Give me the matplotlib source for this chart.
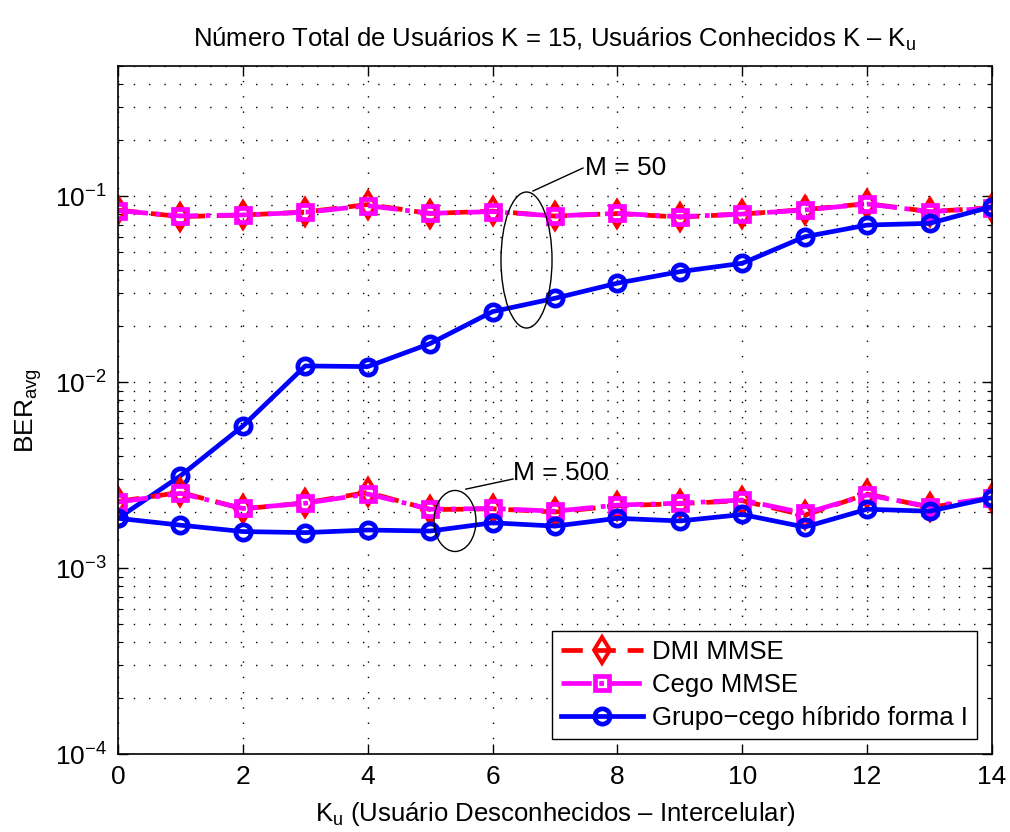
import matplotlib
matplotlib.use("Agg")
import matplotlib.pyplot as plt
from matplotlib.patches import Ellipse
from matplotlib.ticker import LogLocator, NullFormatter

plt.rcParams['font.family'] = ['Liberation Sans', 'DejaVu Sans']
plt.rcParams['mathtext.fontset'] = 'custom'
plt.rcParams['mathtext.rm'] = 'Liberation Sans'
plt.rcParams['mathtext.it'] = 'Liberation Sans:italic'
plt.rcParams['mathtext.bf'] = 'Liberation Sans:bold'

# ---- data ----
ku = list(range(15))

dmi_m50 = [0.0840, 0.0775, 0.0790, 0.0820, 0.0900, 0.0805, 0.0830, 0.0780,
           0.0805, 0.0770, 0.0800, 0.0845, 0.0910, 0.0825, 0.0865]
cego_m50 = [0.0834, 0.0781, 0.0791, 0.0817, 0.0887, 0.0807, 0.0824, 0.0781,
            0.0807, 0.0774, 0.0800, 0.0841, 0.0906, 0.0824, 0.0859]
hib_m50 = [1.85e-3, 3.13e-3, 5.8e-3, 1.22e-2, 1.21e-2, 1.61e-2, 2.39e-2, 2.82e-2,
           3.40e-2, 3.92e-2, 4.35e-2, 6.04e-2, 6.98e-2, 7.13e-2, 8.76e-2]

dmi_m500 = [2.28e-3, 2.55e-3, 2.08e-3, 2.24e-3, 2.55e-3, 2.06e-3, 2.08e-3, 2.00e-3,
            2.16e-3, 2.22e-3, 2.30e-3, 1.92e-3, 2.50e-3, 2.12e-3, 2.37e-3]
cego_m500 = [2.26e-3, 2.52e-3, 2.09e-3, 2.23e-3, 2.50e-3, 2.07e-3, 2.09e-3, 2.02e-3,
             2.18e-3, 2.23e-3, 2.32e-3, 1.97e-3, 2.47e-3, 2.14e-3, 2.39e-3]
hib_m500 = [1.85e-3, 1.70e-3, 1.57e-3, 1.55e-3, 1.60e-3, 1.58e-3, 1.75e-3, 1.68e-3,
            1.85e-3, 1.79e-3, 1.94e-3, 1.66e-3, 2.07e-3, 2.02e-3, 2.39e-3]

legend_labels = ['DMI MMSE', 'Cego MMSE', 'Grupo\u2212cego híbrido forma I']
xticks = list(range(0, 15, 2))

# ---- figure ----
fig = plt.figure(figsize=(10.10, 8.32), dpi=100)
ax = fig.add_axes([118/1010, 78/832, 874/1010, 688/832])

dmi_style = dict(color='red', linestyle='--', linewidth=3.4, marker='d', markersize=13,
                 markerfacecolor='none', markeredgewidth=2.8, markeredgecolor='red',
                 dashes=(4.5, 2.5))
cego_style = dict(color='magenta', linestyle='-.', linewidth=3.4, marker='s', markersize=10,
                  markerfacecolor='none', markeredgewidth=3.4, markeredgecolor='magenta')
hib_style = dict(color='blue', linestyle='-', linewidth=3.4, marker='o', markersize=11,
                 markerfacecolor='none', markeredgewidth=3.4, markeredgecolor='blue')

l1, = ax.plot(ku, dmi_m50, **dmi_style)
l2, = ax.plot(ku, cego_m50, **cego_style)
l3, = ax.plot(ku, hib_m50, **hib_style)
ax.plot(ku, dmi_m500, **dmi_style)
ax.plot(ku, cego_m500, **cego_style)
ax.plot(ku, hib_m500, **hib_style)

ax.set_yscale('log')
ax.set_ylim(1e-4, 0.5)
ax.set_xlim(0, 14)
ax.set_xticks(xticks)
ax.yaxis.set_major_locator(LogLocator(base=10, numticks=10))
ax.yaxis.set_minor_locator(LogLocator(base=10, subs=range(2, 10), numticks=20))
ax.yaxis.set_minor_formatter(NullFormatter())

grid_ls = (0, (1, 10))
ax.grid(True, which='major', axis='both', color='black', linestyle=grid_ls, linewidth=1.0)
ax.grid(True, which='minor', axis='y', color='black', linestyle=grid_ls, linewidth=1.0)

ax.tick_params(which='both', direction='in', top=True, right=True, labelsize=19)
ax.tick_params(which='major', length=7, width=1, pad=8)
ax.tick_params(which='minor', length=3.5, width=0.8)
for s in ax.spines.values():
    s.set_linewidth(1.2)

ax.set_title('Número Total de Usuários K = 15, Usuários Conhecidos K \u2013 K$_{\\rm u}$',
             fontsize=18.5, pad=14)
ax.set_xlabel('K$_{\\rm u}$ (Usuário Desconhecidos \u2013 Intercelular)', fontsize=18.5, labelpad=8)
ax.set_ylabel('BER$_{\\rm avg}$', fontsize=19, labelpad=8)

# annotations (axes-fraction coordinates)
ax.add_patch(Ellipse((0.4674, 0.718), 0.0584, 0.1977, transform=ax.transAxes,
                     fill=False, edgecolor='black', linewidth=1.0, zorder=5))
ax.plot([0.4748, 0.532], [0.8183, 0.8517], transform=ax.transAxes, color='black', linewidth=1.0)
ax.text(0.5343, 0.8517, 'M = 50', transform=ax.transAxes, fontsize=19, va='center', ha='left')

ax.add_patch(Ellipse((0.3856, 0.3387), 0.048, 0.0887, transform=ax.transAxes,
                     fill=False, edgecolor='black', linewidth=1.0, zorder=5))
ax.plot([0.398, 0.452], [0.385, 0.3997], transform=ax.transAxes, color='black', linewidth=1.0)
ax.text(0.452, 0.408, 'M = 500', transform=ax.transAxes, fontsize=19, va='center', ha='left')

leg = ax.legend([l1, l2, l3], legend_labels, loc='lower right', fontsize=18.5,
                frameon=True, fancybox=False, edgecolor='black', framealpha=1,
                handlelength=3.2, handletextpad=0.35, borderaxespad=0.6,
                labelspacing=0.35, borderpad=0.35)
leg.get_frame().set_linewidth(1.0)

fig.savefig('out.png', dpi=100)
